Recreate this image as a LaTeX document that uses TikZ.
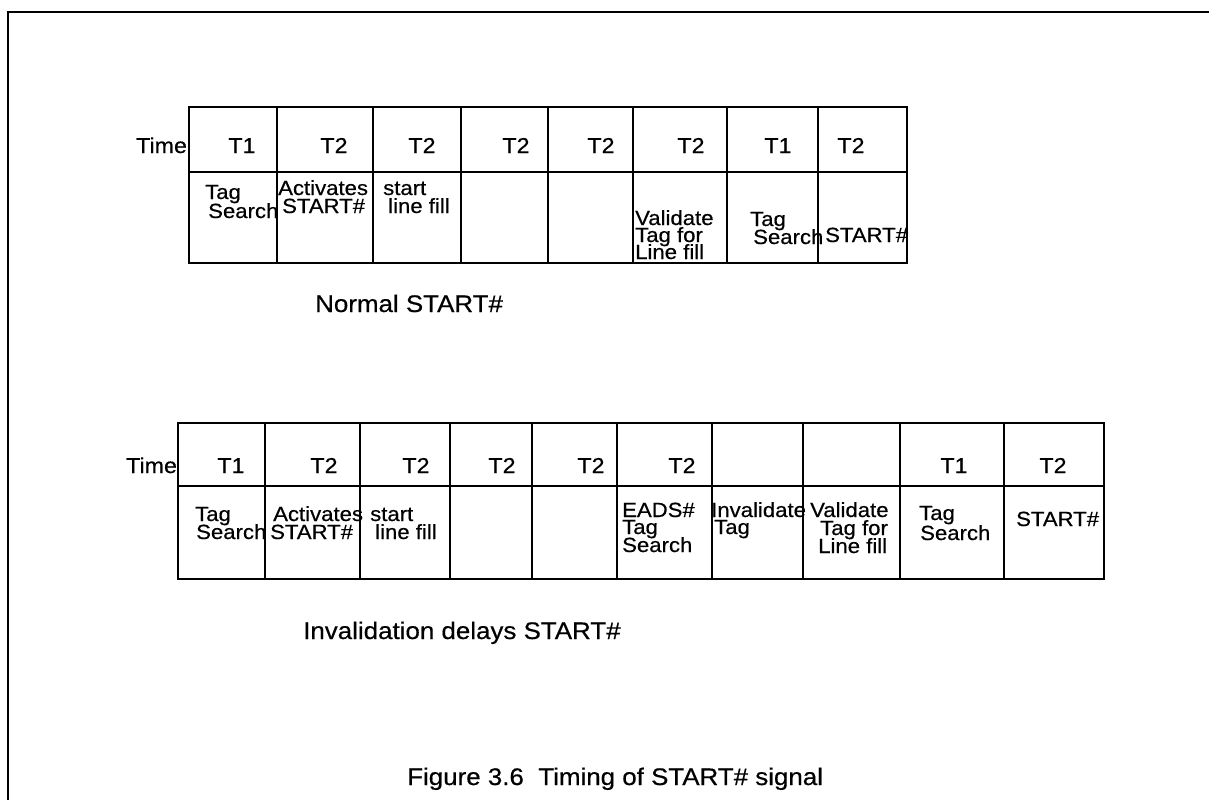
\documentclass[tikz,border=0pt]{standalone}
\usepackage{fontspec}
\setmainfont{Liberation Sans}[FakeStretch=1.08, FakeBold=0.5]
\begin{document}
\begin{tikzpicture}[x=1pt,y=-1pt,
  cellbox/.style={draw, line width=1.3pt, rectangle, inner sep=0pt, outer sep=0pt, anchor=north west},
  txt/.style={anchor=base west, inner sep=0pt, font=\fontsize{20.5}{20.5}\selectfont},
  hdr/.style={anchor=base, inner sep=0pt, font=\fontsize{21.5}{21.5}\selectfont},
  capt/.style={anchor=base west, inner sep=0pt, font=\fontsize{24}{24}\selectfont},
  framestyle/.style={line width=2.8pt}]
\useasboundingbox (0,0) rectangle (1209,800);
% frame
\coordinate (ftl) at (8,12);
\coordinate (ftr) at (1209,12);
\coordinate (fbl) at (8,800);
\draw[framestyle] (ftr) -- (ftl) -- (fbl);

% ---------- top table ----------
\foreach \a/\b [count=\i] in {189/277,277/373,373/461,461/548,548/633,633/727,727/818,818/907}{
  \pgfmathsetmacro\w{\b-\a}
  \node[cellbox, minimum width=\w pt, minimum height=65pt] (th\i) at (\a,107) {};
  \node[cellbox, minimum width=\w pt, minimum height=91pt] (tb\i) at (\a,172) {};
}
\node[hdr, anchor=base west] (ttime) at (136,153) {Time};
\foreach \x/\t [count=\i] in {242/T1,334/T2,422/T2,516/T2,601/T2,691/T2,778/T1,851/T2}{
  \node[hdr] (tt\i) at (\x,153) {\t};
}
\node[txt] (ta1) at (205,199) {Tag};
\node[txt] (ta2) at (208,218) {Search};
\node[txt] (tb1a) at (278,195) {Activates};
\node[txt] (tb1b) at (282,213) {START\#};
\node[txt] (tc1a) at (383,195) {start};
\node[txt] (tc1b) at (388,213) {line fill};
\node[txt] (td1a) at (635,225) {Validate};
\node[txt] (td1b) at (635,242) {Tag for};
\node[txt] (td1c) at (635,259) {Line fill};
\node[txt] (te1a) at (750,226) {Tag};
\node[txt] (te1b) at (753,244) {Search};
\node[txt] (tf1) at (825,242) {START\#};
\node[capt] (cap1) at (315,312) {Normal START\#};

% ---------- bottom table ----------
\foreach \a/\b [count=\i] in {178/265,265/360,360/450,450/532,532/617,617/712,712/803,803/900,900/1004,1004/1104}{
  \pgfmathsetmacro\w{\b-\a}
  \node[cellbox, minimum width=\w pt, minimum height=63pt] (bh\i) at (\a,423) {};
  \node[cellbox, minimum width=\w pt, minimum height=93pt] (bb\i) at (\a,486) {};
}
\node[hdr, anchor=base west] (btime) at (126,473) {Time};
\foreach \x/\t [count=\i] in {231/T1,324/T2,416/T2,502/T2,591/T2,682/T2}{
  \node[hdr] (bt\i) at (\x,473) {\t};
}
\node[hdr] (bt9) at (954,473) {T1};
\node[hdr] (bt10) at (1053,473) {T2};
\node[txt] (ba1) at (195,521) {Tag};
\node[txt] (ba2) at (196,539) {Search};
\node[txt] (bb1a) at (273,521) {Activates};
\node[txt] (bb1b) at (270,539) {START\#};
\node[txt] (bc1a) at (370,521) {start};
\node[txt] (bc1b) at (375,539) {line fill};
\node[txt] (bd1a) at (622,517) {EADS\#};
\node[txt] (bd1b) at (622,534) {Tag};
\node[txt] (bd1c) at (622,552) {Search};
\node[txt] (be1a) at (711,517) {Invalidate};
\node[txt] (be1b) at (714,534) {Tag};
\node[txt] (bf1a) at (810,517) {Validate};
\node[txt] (bf1b) at (820,535) {Tag for};
\node[txt] (bf1c) at (818,553) {Line fill};
\node[txt] (bg1a) at (919,520) {Tag};
\node[txt] (bg1b) at (920,540) {Search};
\node[txt] (bh1) at (1016,526) {START\#};
\node[capt] (cap2) at (303,639) {Invalidation delays START\#};
\node[capt] (cap3) at (407,785) {Figure 3.6\ \ Timing of START\# signal};
\end{tikzpicture}
\end{document}
